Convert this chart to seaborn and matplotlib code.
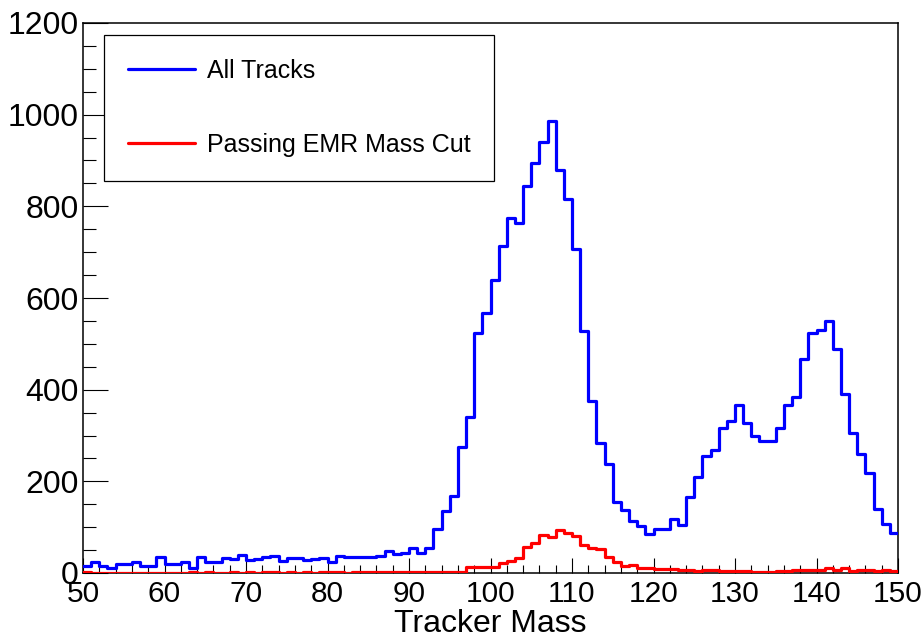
import numpy as np
import pandas as pd
import matplotlib
matplotlib.use("Agg")
import matplotlib.pyplot as plt
from matplotlib import font_manager
from matplotlib.ticker import MultipleLocator
import seaborn as sns

# ---- data (bin contents, bins of width 1 from 50 to 150) ----
bin_start = 50
bin_stop = 150
all_tracks = [16, 23, 16, 10, 20, 20, 25, 15, 15, 34,
              20, 20, 25, 12, 36, 25, 25, 33, 30, 40,
              29, 31, 34, 38, 27, 33, 33, 28, 30, 33,
              25, 38, 36, 34, 34, 34, 38, 47, 42, 44,
              54, 44, 54, 96, 136, 168, 276, 340, 524, 567,
              639, 713, 775, 763, 844, 895, 941, 987, 879, 815,
              708, 528, 375, 284, 238, 154, 137, 113, 103, 86,
              95, 97, 118, 105, 165, 209, 255, 268, 316, 332,
              367, 327, 299, 288, 287, 317, 366, 383, 468, 523,
              530, 550, 489, 391, 305, 259, 219, 139, 107, 87]
passing_cut = [2, 1, 0, 1, 0, 0, 1, 0, 1, 0,
               1, 0, 1, 2, 1, 2, 1, 1, 2, 1,
               2, 1, 3, 2, 1, 2, 1, 2, 1, 2,
               2, 3, 1, 2, 3, 2, 2, 3, 2, 3,
               2, 3, 3, 2, 3, 2, 3, 13, 14, 14,
               14, 22, 26, 33, 57, 65, 83, 78, 94, 88,
               81, 62, 55, 53, 34, 25, 16, 17, 12, 10,
               8, 9, 9, 6, 7, 4, 6, 6, 4, 4,
               4, 4, 2, 2, 2, 4, 4, 6, 6, 7,
               7, 12, 7, 11, 4, 6, 6, 4, 7, 4]
series_labels = ["All Tracks", "Passing EMR Mass Cut"]
x_ticks = [50, 60, 70, 80, 90, 100, 110, 120, 130, 140, 150]
y_ticks = [0, 200, 400, 600, 800, 1000, 1200]
x_title = "Tracker Mass"

sns.set_style("ticks")
names = {f.name for f in font_manager.fontManager.ttflist}
base = "Liberation Sans" if "Liberation Sans" in names else "DejaVu Sans"
plt.rcParams["font.family"] = [base, "DejaVu Sans"]
plt.rcParams["text.color"] = "black"
plt.rcParams["axes.labelcolor"] = "black"
plt.rcParams["xtick.color"] = "black"
plt.rcParams["ytick.color"] = "black"

fig = plt.figure(figsize=(9.24, 6.39), dpi=100)
fig.patch.set_facecolor("white")
ax = fig.add_axes([83 / 924, 1 - 573 / 639, 815 / 924, 550 / 639])
ax.set_facecolor("white")

centers = np.arange(bin_start, bin_stop) + 0.5
df_all = pd.DataFrame({"mass": centers, "count": all_tracks})
df_cut = pd.DataFrame({"mass": centers, "count": passing_cut})
sns.histplot(data=df_all, x="mass", weights="count", binwidth=1,
             binrange=(bin_start, bin_stop), element="step",
             fill=False, color="#0000ff", linewidth=2.3, label=series_labels[0],
             zorder=3, ax=ax)
sns.histplot(data=df_cut, x="mass", weights="count", binwidth=1,
             binrange=(bin_start, bin_stop), element="step",
             fill=False, color="#ff0000", linewidth=2.3, label=series_labels[1],
             zorder=3, ax=ax)

ax.set_xlim(bin_start, bin_stop)
ax.set_ylim(0, 1200)
ax.set_xticks(x_ticks)
ax.set_yticks(y_ticks)
ax.xaxis.set_minor_locator(MultipleLocator(2))
ax.yaxis.set_minor_locator(MultipleLocator(50))

for s in ax.spines.values():
    s.set_visible(True)
    s.set_linewidth(1.1)
    s.set_color("black")

ax.tick_params(axis="x", which="major", direction="in", length=11, width=0.8, pad=5,
               labelsize=21.5, top=False, labelcolor="black")
ax.tick_params(axis="x", which="minor", direction="in", length=5.8, width=0.8, top=False)
ax.tick_params(axis="y", which="major", direction="in", length=18, width=0.8, pad=3,
               labelsize=23, right=False, labelcolor="black")
ax.tick_params(axis="y", which="minor", direction="in", length=9.4, width=0.8, right=False)
ax.set_ylabel("")
ax.set_xlabel(x_title, fontsize=23, labelpad=1, color="black")

leg = ax.legend(loc="upper left", bbox_to_anchor=(0.026, 0.978), borderaxespad=0,
                fontsize=18, handlelength=2.7, handletextpad=0.45, labelspacing=2.0,
                borderpad=0.95, frameon=True, fancybox=False, framealpha=1,
                edgecolor="black")
leg.set_zorder(5)
leg.get_frame().set_linewidth(0.9)
for t in leg.get_texts():
    t.set_color("black")

fig.savefig("out.png", dpi=100, facecolor="white")
